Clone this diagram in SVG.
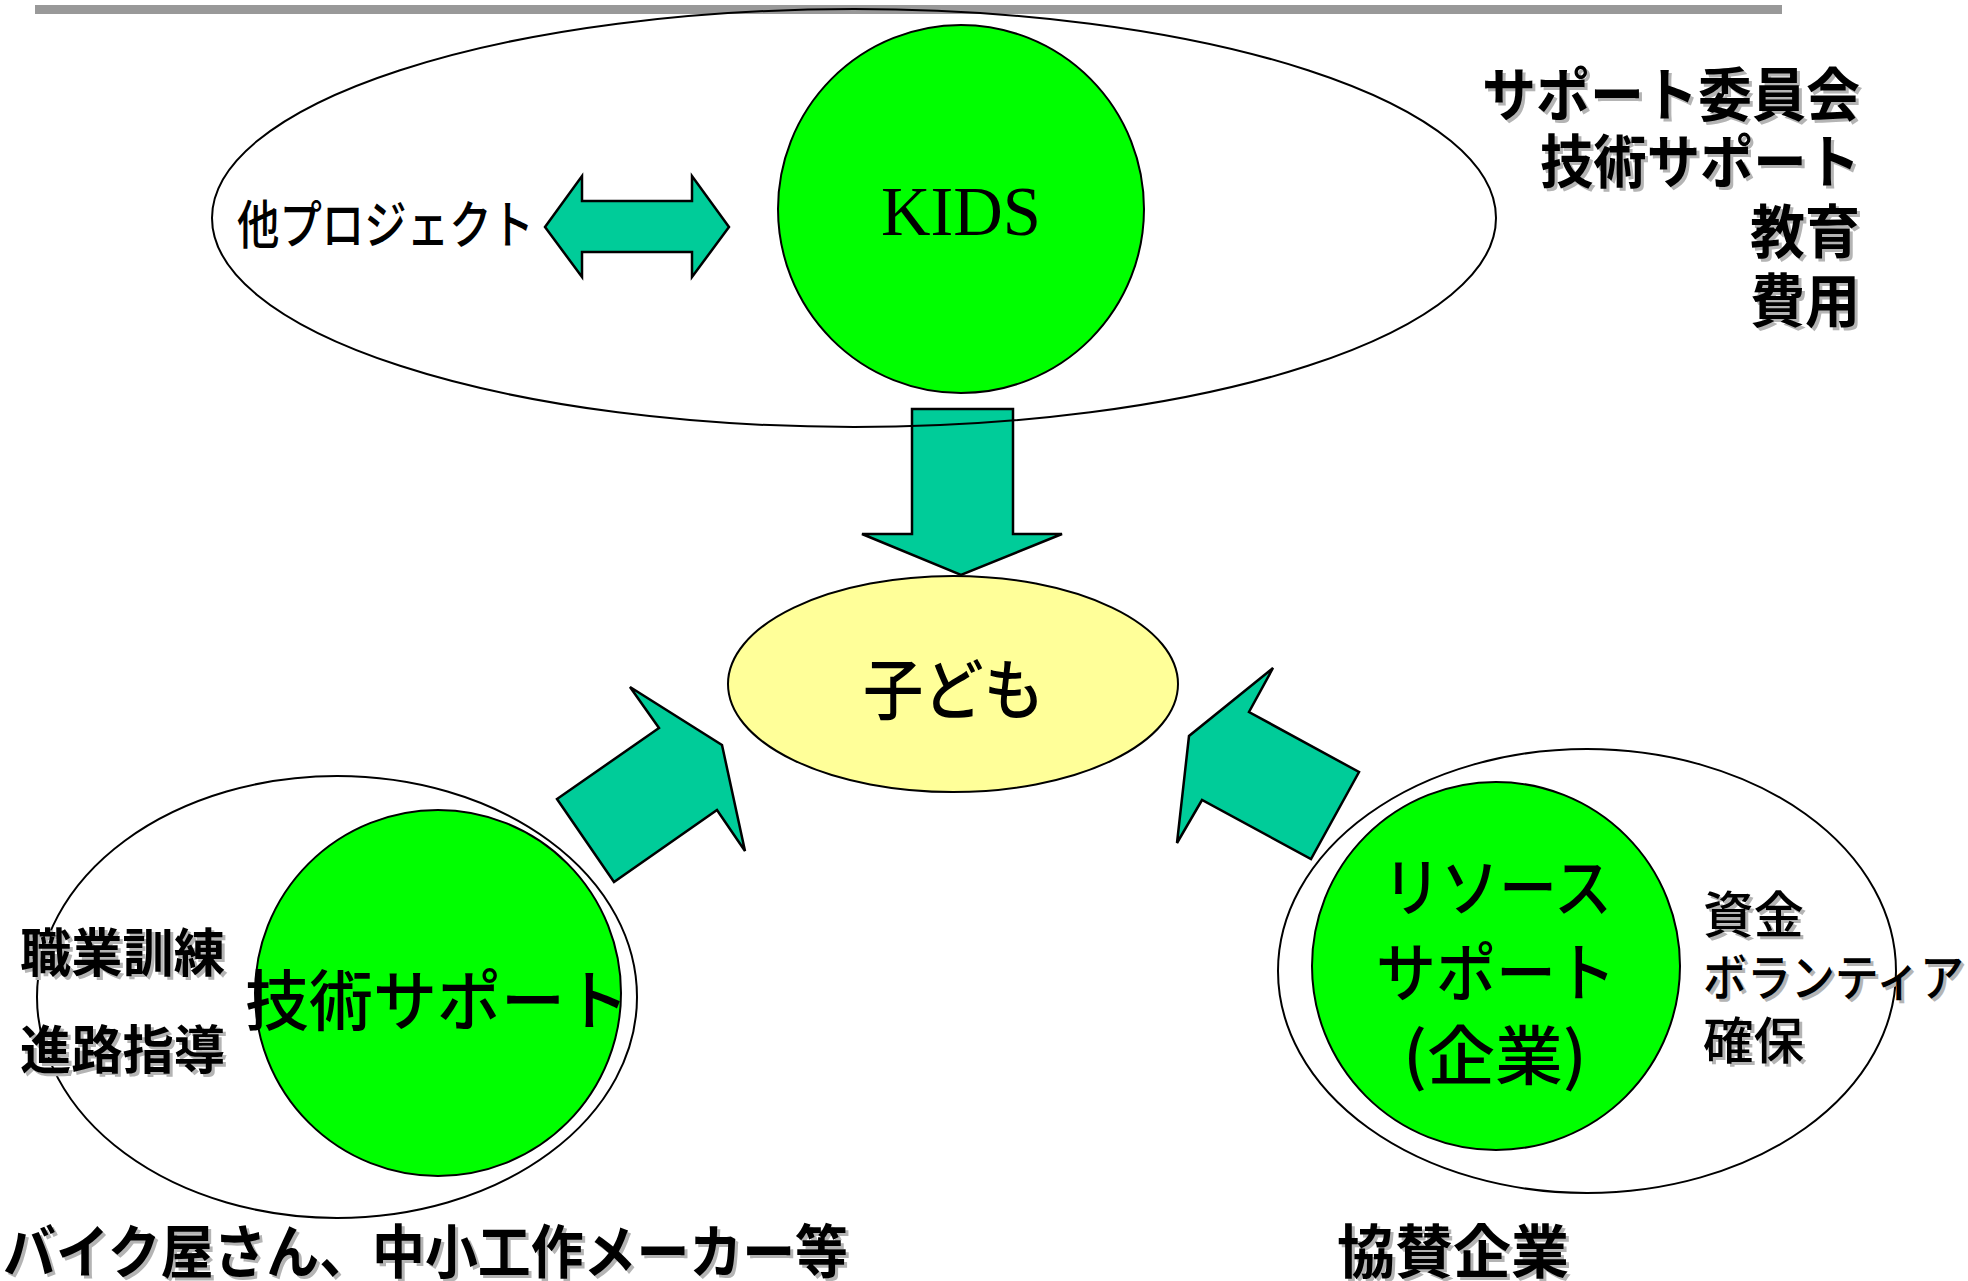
<svg xmlns="http://www.w3.org/2000/svg" width="1968" height="1281" viewBox="0 0 1968 1281">
<style>
.ol{fill:none;stroke:#000;stroke-width:2}
.gc{fill:#00ff00;stroke:#000;stroke-width:2}
.arr{fill:#00cc99;stroke:#000;stroke-width:2.5;stroke-linejoin:miter}
.t{font-family:"Noto Sans CJK JP","Liberation Sans",sans-serif;fill:#000;font-weight:500}
.b{font-weight:bold}
.sh{fill:#b4b4b4}
</style>
<rect x="35" y="5" width="1747" height="9" fill="#999999"/>
<g id="connectors">
  <polygon class="arr" points="912,409 1013,409 1013,534 1062,534 961,575 862,534 912,534"/>
  <polygon class="arr" points="630,687 722,745 745,851 717,810 614,882 557,799 659,728"/>
  <polygon class="arr" points="1273,668 1189,736 1177,843 1202,800 1311,859 1359,772 1249,712"/>
  <polygon class="arr" points="545,227 582,176 582,201 692,201 692,176 729,227 692,277 692,252 582,252 582,277"/>
</g>
<g id="kids-group">
  <ellipse class="ol" cx="854" cy="218" rx="642" ry="209"/>
</g>
<g id="kids">
  <ellipse class="gc" cx="961" cy="209" rx="183" ry="184"/>
  <text x="961" y="235" text-anchor="middle" font-family="'Liberation Serif',serif" font-size="70" textLength="160" lengthAdjust="spacingAndGlyphs">KIDS</text>
</g>
<g id="other-projects">
  <text class="t" x="237" y="244" font-size="52" textLength="297" lengthAdjust="spacingAndGlyphs">他プロジェクト</text>
</g>
<g id="kids-roles">
  <g class="t b sh" font-size="58" transform="translate(3,3)">
    <text x="1482" y="116" textLength="378" lengthAdjust="spacingAndGlyphs">サポート委員会</text>
    <text x="1540" y="183" textLength="320" lengthAdjust="spacingAndGlyphs">技術サポート</text>
    <text x="1750" y="253" textLength="110" lengthAdjust="spacingAndGlyphs">教育</text>
    <text x="1750" y="322" textLength="110" lengthAdjust="spacingAndGlyphs">費用</text>
  </g>
  <g class="t b" font-size="58">
    <text x="1482" y="116" textLength="378" lengthAdjust="spacingAndGlyphs">サポート委員会</text>
    <text x="1540" y="183" textLength="320" lengthAdjust="spacingAndGlyphs">技術サポート</text>
    <text x="1750" y="253" textLength="110" lengthAdjust="spacingAndGlyphs">教育</text>
    <text x="1750" y="322" textLength="110" lengthAdjust="spacingAndGlyphs">費用</text>
  </g>
</g>
<g id="child">
  <ellipse cx="953" cy="684" rx="225" ry="108" fill="#ffff99" stroke="#000" stroke-width="2"/>
  <text class="t" x="863" y="714" font-size="66" textLength="181" lengthAdjust="spacingAndGlyphs">子ども</text>
</g>
<g id="tech-group">
  <ellipse class="ol" cx="337" cy="997" rx="300" ry="221"/>
</g>
<g id="tech-support">
  <circle class="gc" cx="438" cy="993" r="183"/>
  <text class="t" x="245" y="1025" font-size="66" textLength="384" lengthAdjust="spacingAndGlyphs">技術サポート</text>
</g>
<g id="tech-items">
  <g class="t b sh" font-size="52" transform="translate(3,3)">
    <text x="20" y="972" textLength="205" lengthAdjust="spacingAndGlyphs">職業訓練</text>
    <text x="20" y="1069" textLength="205" lengthAdjust="spacingAndGlyphs">進路指導</text>
  </g>
  <g class="t b" font-size="52">
    <text x="20" y="972" textLength="205" lengthAdjust="spacingAndGlyphs">職業訓練</text>
    <text x="20" y="1069" textLength="205" lengthAdjust="spacingAndGlyphs">進路指導</text>
  </g>
</g>
<g id="tech-label">
  <text class="t b sh" x="6" y="1276" font-size="58" textLength="845" lengthAdjust="spacingAndGlyphs">バイク屋さん、中小工作メーカー等</text>
  <text class="t b" x="3" y="1273" font-size="58" textLength="845" lengthAdjust="spacingAndGlyphs">バイク屋さん、中小工作メーカー等</text>
</g>
<g id="resource-group">
  <ellipse class="ol" cx="1587" cy="971" rx="309" ry="222"/>
</g>
<g id="resource-support">
  <circle class="gc" cx="1496" cy="966" r="184"/>
  <g class="t" font-size="64">
    <text x="1383" y="911" textLength="229" lengthAdjust="spacingAndGlyphs">リソース</text>
    <text x="1376" y="996" textLength="240" lengthAdjust="spacingAndGlyphs">サポート</text>
    <text x="1403" y="1079" textLength="184" lengthAdjust="spacingAndGlyphs">(企業)</text>
  </g>
</g>
<g id="resource-items">
  <g class="t sh" font-size="50" transform="translate(3,3)">
    <text x="1703" y="933" textLength="101" lengthAdjust="spacingAndGlyphs">資金</text>
    <text x="1703" y="996" textLength="261" lengthAdjust="spacingAndGlyphs">ボランティア</text>
    <text x="1703" y="1059" textLength="101" lengthAdjust="spacingAndGlyphs">確保</text>
  </g>
  <g class="t" font-size="50">
    <text x="1703" y="933" textLength="101" lengthAdjust="spacingAndGlyphs">資金</text>
    <text x="1703" y="996" textLength="261" lengthAdjust="spacingAndGlyphs">ボランティア</text>
    <text x="1703" y="1059" textLength="101" lengthAdjust="spacingAndGlyphs">確保</text>
  </g>
</g>
<g id="resource-label">
  <text class="t b sh" x="1340" y="1276" font-size="58" textLength="232" lengthAdjust="spacingAndGlyphs">協賛企業</text>
  <text class="t b" x="1337" y="1273" font-size="58" textLength="232" lengthAdjust="spacingAndGlyphs">協賛企業</text>
</g>
</svg>
